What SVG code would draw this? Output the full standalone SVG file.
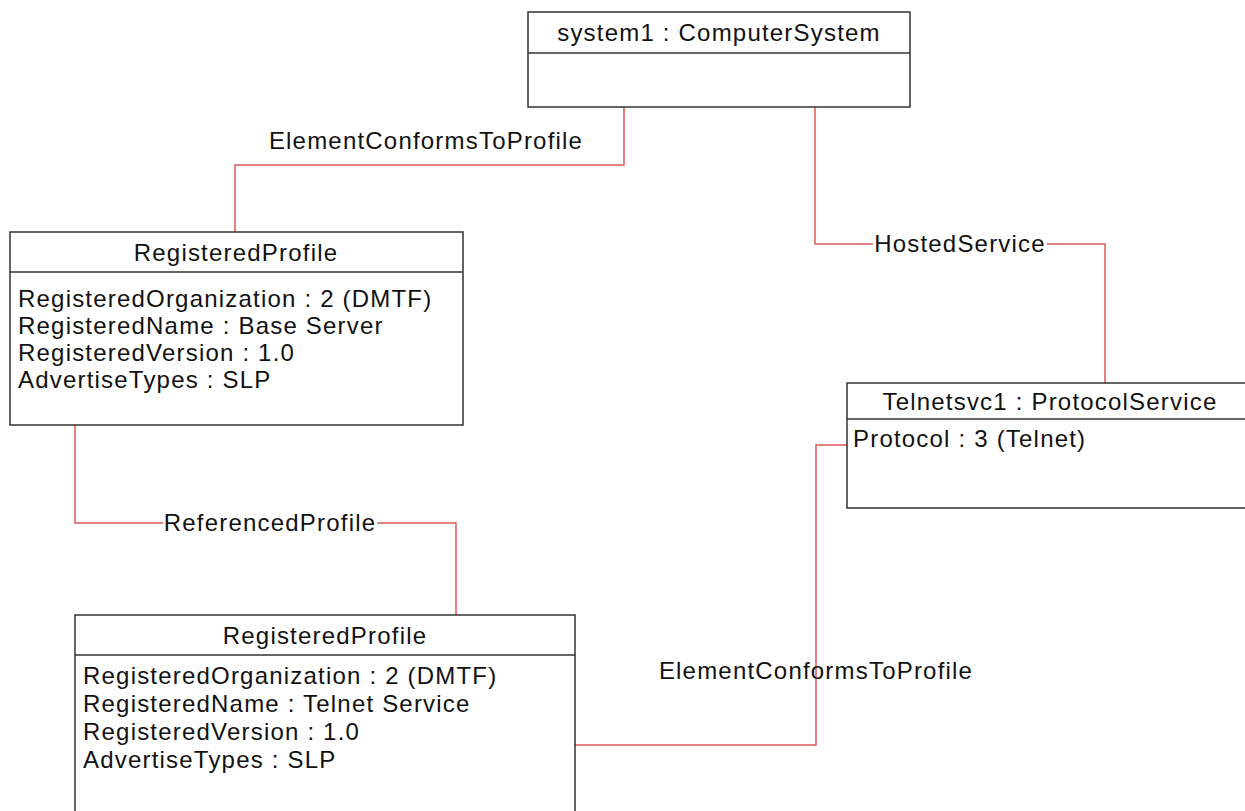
<svg xmlns="http://www.w3.org/2000/svg" width="1245" height="811" viewBox="0 0 1245 811">
<style>
.box{fill:#fff;stroke:#333;stroke-width:1.5}
.div{stroke:#333;stroke-width:1.5}
.t{font-family:"Liberation Sans",Arial,sans-serif;font-size:24px;letter-spacing:1.2px;fill:#111}
.c{text-anchor:middle}
.con{fill:none;stroke:#dc5a5a;stroke-width:1.5}
</style>
<rect width="1245" height="811" fill="#fff"/>
<g id="connectors">
<polyline class="con" points="624,107 624,165 235,165 235,232"/>
<polyline class="con" points="815,107 815,244 1105,244 1105,383"/>
<polyline class="con" points="75,425 75,523 456,523 456,615"/>
<polyline class="con" points="575,745 816,745 816,445 847,445"/>
<rect x="873" y="232" width="174" height="26" fill="#fff"/>
<rect x="163" y="511" width="214" height="26" fill="#fff"/>
<text class="t c" x="426" y="149">ElementConformsToProfile</text>
<text class="t c" x="960" y="252">HostedService</text>
<text class="t c" x="270" y="531">ReferencedProfile</text>
<text class="t c" x="816" y="679">ElementConformsToProfile</text>
</g>
<g id="system1">
<rect class="box" x="528" y="12" width="382" height="95"/>
<line class="div" x1="528" y1="53" x2="910" y2="53"/>
<text class="t c" x="719" y="41">system1 : ComputerSystem</text>
</g>
<g id="profile1">
<rect class="box" x="10" y="232" width="453" height="193"/>
<line class="div" x1="10" y1="272" x2="463" y2="272"/>
<text class="t c" x="236" y="261">RegisteredProfile</text>
<text class="t" x="18" y="307">RegisteredOrganization : 2 (DMTF)</text>
<text class="t" x="18" y="334">RegisteredName : Base Server</text>
<text class="t" x="18" y="361">RegisteredVersion : 1.0</text>
<text class="t" x="18" y="388">AdvertiseTypes : SLP</text>
</g>
<g id="telnetsvc1">
<rect class="box" x="847" y="383" width="406" height="125"/>
<line class="div" x1="847" y1="419" x2="1253" y2="419"/>
<text class="t c" x="1050" y="410">Telnetsvc1 : ProtocolService</text>
<text class="t" x="853" y="447">Protocol : 3 (Telnet)</text>
</g>
<g id="profile2">
<rect class="box" x="75" y="615" width="500" height="210"/>
<line class="div" x1="75" y1="655" x2="575" y2="655"/>
<text class="t c" x="325" y="644">RegisteredProfile</text>
<text class="t" x="83" y="684">RegisteredOrganization : 2 (DMTF)</text>
<text class="t" x="83" y="712">RegisteredName : Telnet Service</text>
<text class="t" x="83" y="740">RegisteredVersion : 1.0</text>
<text class="t" x="83" y="768">AdvertiseTypes : SLP</text>
</g>
</svg>
